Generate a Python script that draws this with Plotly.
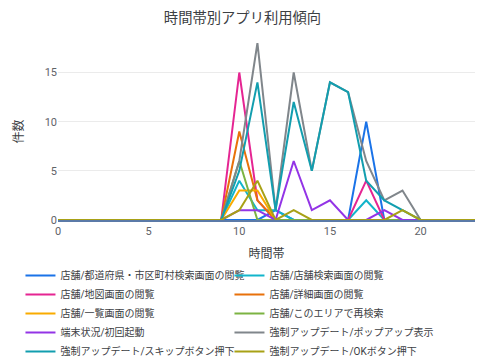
import plotly.graph_objects as go

hours = list(range(24))

names = [
    "店舗/都道府県・市区町村検索画面の閲覧",
    "店舗/店舗検索画面の閲覧",
    "店舗/地図画面の閲覧",
    "店舗/詳細画面の閲覧",
    "店舗/一覧画面の閲覧",
    "店舗/このエリアで再検索",
    "端末状況/初回起動",
    "強制アップデート/ポップアップ表示",
    "強制アップデート/スキップボタン押下",
    "強制アップデート/OKボタン押下",
]

pref_search = [0]*9 + [0, 0, 0, 1, 0, 0, 0, 0, 10, 0, 0, 0, 0, 0, 0]
shop_search = [0]*9 + [0, 4, 1, 1, 0, 0, 0, 0, 2, 0, 0, 0, 0, 0, 0]
map_view    = [0]*9 + [0, 15, 2, 0, 0, 0, 0, 0, 4, 0, 0, 0, 0, 0, 0]
detail_view = [0]*9 + [0, 9, 2, 0, 0, 0, 0, 0, 0, 0, 0, 0, 0, 0, 0]
list_view   = [0]*9 + [0, 3, 3, 0, 0, 0, 0, 0, 0, 0, 0, 0, 0, 0, 0]
area_search = [0]*9 + [0, 6, 0, 0, 0, 0, 0, 0, 0, 0, 0, 0, 0, 0, 0]
first_boot  = [0]*9 + [0, 1, 1, 0, 6, 1, 2, 0, 0, 1, 0, 0, 0, 0, 0]
popup_show  = [0]*9 + [0, 6, 18, 1, 15, 5, 14, 13, 6, 2, 3, 0, 0, 0, 0]
skip_press  = [0]*9 + [0, 5, 14, 1, 12, 5, 14, 13, 4, 2, 1, 0, 0, 0, 0]
ok_press    = [0]*9 + [0, 1, 4, 0, 1, 0, 0, 0, 0, 0, 1, 0, 0, 0, 0]

series = [pref_search, shop_search, map_view, detail_view, list_view,
          area_search, first_boot, popup_show, skip_press, ok_press]
colors = ["#1A73E8", "#12B5CB", "#E52592", "#E8710A", "#F9AB00",
          "#7CB342", "#9334E6", "#80868B", "#129EAF", "#A8A116"]

font = "Roboto, 'Noto Sans CJK JP', sans-serif"

fig = go.Figure()
for n, s, c in zip(names, series, colors):
    fig.add_trace(go.Scatter(x=hours, y=s, mode="lines", name=n,
                             line=dict(color=c, width=2)))

fig.update_layout(
    width=485, height=358,
    margin=dict(l=58, r=10, t=43, b=138, autoexpand=False),
    paper_bgcolor="white", plot_bgcolor="white",
    font=dict(family=font, size=11, color="#5f6368"),
    title=dict(text="時間帯別アプリ利用傾向", x=0.5, xanchor="center", y=0.95, yanchor="middle",
               font=dict(size=14.3, color="#3c4043", family=font)),
    showlegend=True,
    legend=dict(orientation="h", x=-0.09, xanchor="left", y=-0.232, yanchor="top",
                entrywidth=164, entrywidthmode="pixels",
                font=dict(size=10, color="#3c4043"), tracegroupgap=0),
)
fig.update_xaxes(range=[0, 23], tickvals=[0, 5, 10, 15, 20], showgrid=False, zeroline=False,
                 showline=True, linecolor="#5b7aa8", linewidth=2, ticks="",
                 title=dict(text="時間帯", font=dict(size=12, color="#3c4043"), standoff=12))
fig.update_yaxes(range=[0, 18], tickvals=[0, 5, 10, 15], showgrid=True, gridcolor="#ebebeb",
                 zeroline=False, showline=False, ticks="",
                 title=dict(text="件数", font=dict(size=12, color="#3c4043"), standoff=18))

fig.write_html("out.html")
